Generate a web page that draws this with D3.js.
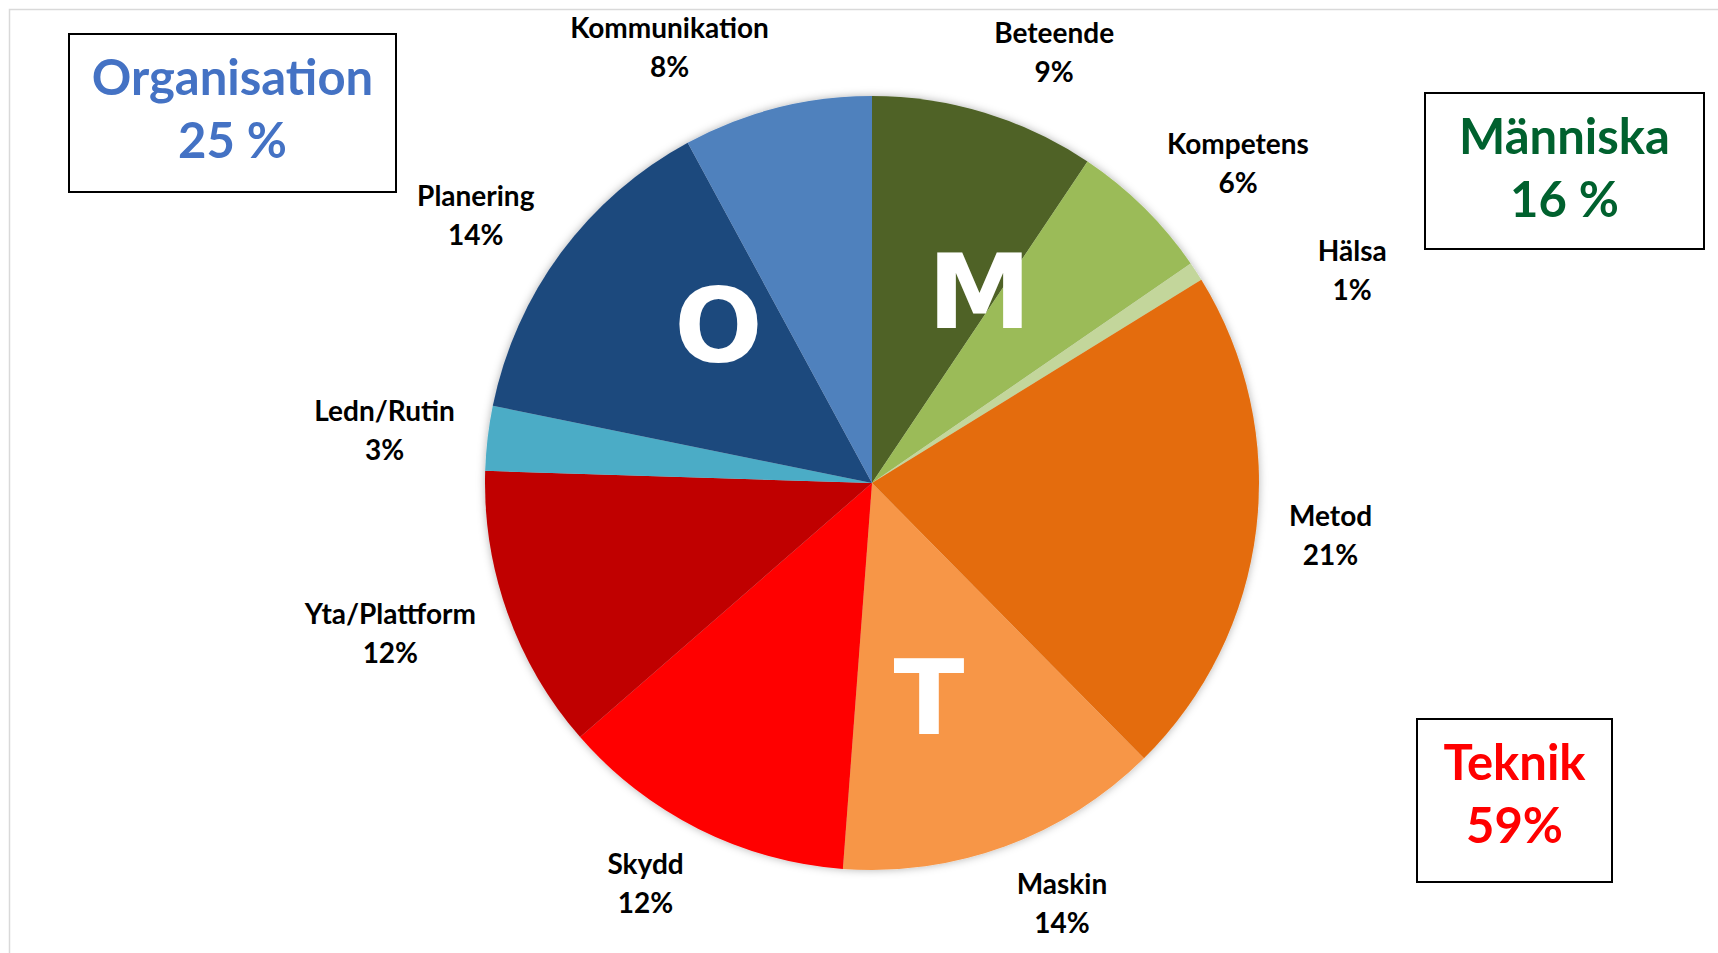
<!DOCTYPE html>
<html>
<head>
<meta charset="utf-8">
<script src="https://cdn.jsdelivr.net/npm/d3@7"></script>
<style>
  body { margin: 0; background: #fff; }
  svg { display: block; }
</style>
</head>
<body>
<svg id="chart" width="1718" height="953"></svg>
<script>
// slices clockwise from 12 o'clock
var categories = ["Beteende", "Kompetens", "Hälsa", "Metod", "Maskin", "Skydd", "Yta/Plattform", "Ledn/Rutin", "Planering", "Kommunikation"];
var shares = [9.4, 6.0, 0.8, 21.4, 13.6, 12.4, 11.9, 2.7, 13.9, 7.9];
var groupOf = ["M", "M", "M", "T", "T", "T", "T", "O", "O", "O"];
var sliceColors = ["#4f6228", "#9bbb59", "#c3d69b", "#e46c0a", "#f79646", "#ff0000", "#c00000", "#4bacc6", "#1f497d", "#4f81bd"];

var groupKeys = ["O", "M", "T"];
var groupNames = ["Organisation", "Människa", "Teknik"];
var groupTotals = ["25 %", "16 %", "59%"];

var svg = d3.select("#chart");
var cx = 872, cy = 483, R = 387;

svg.append("rect")
    .attr("x", 9.5).attr("y", 9.5)
    .attr("width", 1800).attr("height", 1000)
    .attr("fill", "none").attr("stroke", "#d9d9d9").attr("stroke-width", 1.5);

var defs = svg.append("defs");
var shadow = defs.append("filter").attr("id", "soft").attr("x", "-10%").attr("y", "-10%").attr("width", "120%").attr("height", "120%");
shadow.append("feDropShadow").attr("dx", 0).attr("dy", 0).attr("stdDeviation", 4)
    .attr("flood-color", "#000").attr("flood-opacity", 0.3);

var data = categories.map(function(c, i) {
    return {name: c, value: shares[i], group: groupOf[i], color: sliceColors[i]};
});

var pie = d3.pie().sort(null).value(function(d) { return d.value; });
var arcs = pie(data);
var arc = d3.arc().innerRadius(0).outerRadius(R);

var g = svg.append("g").attr("transform", "translate(" + cx + "," + cy + ")");

g.append("g").attr("filter", "url(#soft)")
  .selectAll("path").data(arcs).enter().append("path")
    .attr("d", arc)
    .attr("fill", function(d) { return d.data.color; });

// big group letters near the group's centroid
var total = d3.sum(shares);
groupKeys.forEach(function(k) {
    var sel = arcs.filter(function(a) { return a.data.group == k; });
    var a0 = d3.min(sel, function(a) { return a.startAngle; });
    var a1 = d3.max(sel, function(a) { return a.endAngle; });
    var mid = (a0 + a1) / 2;
    var r = 0.57 * R;
    g.append("text")
        .attr("x", Math.sin(mid) * r)
        .attr("y", -Math.cos(mid) * r)
        .attr("dy", "0.36em")
        .attr("text-anchor", "middle")
        .attr("font-family", "DejaVu Sans, sans-serif")
        .attr("font-weight", "bold")
        .attr("font-size", 104)
        .attr("fill", "#fff")
        .text(k);
});

// outside labels
var labelRx = 420, labelRy = 413, boxH = 72;
var placed = [];
arcs.forEach(function(a) {
    var mid = (a.startAngle + a.endAngle) / 2;
    var s = Math.sin(mid), c = Math.cos(mid);
    var t = g.append("text")
        .attr("text-anchor", "middle")
        .attr("font-family", "Lato, sans-serif")
        .attr("font-weight", "bold")
        .attr("font-size", 28)
        .attr("fill", "#000");
    var l1 = t.append("tspan").attr("x", 0).attr("y", 0).text(a.data.name);
    var l2 = t.append("tspan").attr("x", 0).attr("y", 39).text(Math.round(a.data.value / total * 100) + "%");
    var w = t.node().getBBox().width;
    var x = s * labelRx + (Math.abs(s) > 0.05 ? Math.sign(s) * w / 2 : 0);
    var y = -c * labelRy - c * boxH / 2;
    // move out and away if it crowds an earlier label
    var hit = true, guard = 0;
    while (hit && guard < 300) {
        hit = placed.some(function(p) {
            return Math.abs(p.x - x) < (p.w + w) / 2 + 15 && Math.abs(p.y - y) < boxH + 35;
        });
        if (hit) { x += Math.sign(s) * 2; y += Math.sign(s) * 0.7; }
        guard++;
    }
    placed.push({x: x, y: y, w: w});
    l1.attr("x", x).attr("y", y - 10);
    l2.attr("x", x).attr("y", y + 29);
});

// group summary boxes
var boxes = [
    {x: 69, y: 34, w: 327, h: 158, color: "#4472c4"},
    {x: 1425, y: 93, w: 279, h: 156, color: "#00612e"},
    {x: 1417, y: 719, w: 195, h: 163, color: "#ff0000"}
];
boxes.forEach(function(b, i) {
    svg.append("rect")
        .attr("x", b.x).attr("y", b.y).attr("width", b.w).attr("height", b.h)
        .attr("fill", "#fff").attr("stroke", "#000").attr("stroke-width", 2);
    var t = svg.append("text")
        .attr("text-anchor", "middle")
        .attr("font-family", "Lato, sans-serif")
        .attr("font-weight", "bold")
        .attr("font-size", 49)
        .attr("fill", b.color);
    t.append("tspan").attr("x", b.x + b.w / 2).attr("y", b.y + 61).text(groupNames[i]);
    t.append("tspan").attr("x", b.x + b.w / 2).attr("y", b.y + 124).text(groupTotals[i]);
});
</script>
</body>
</html>
